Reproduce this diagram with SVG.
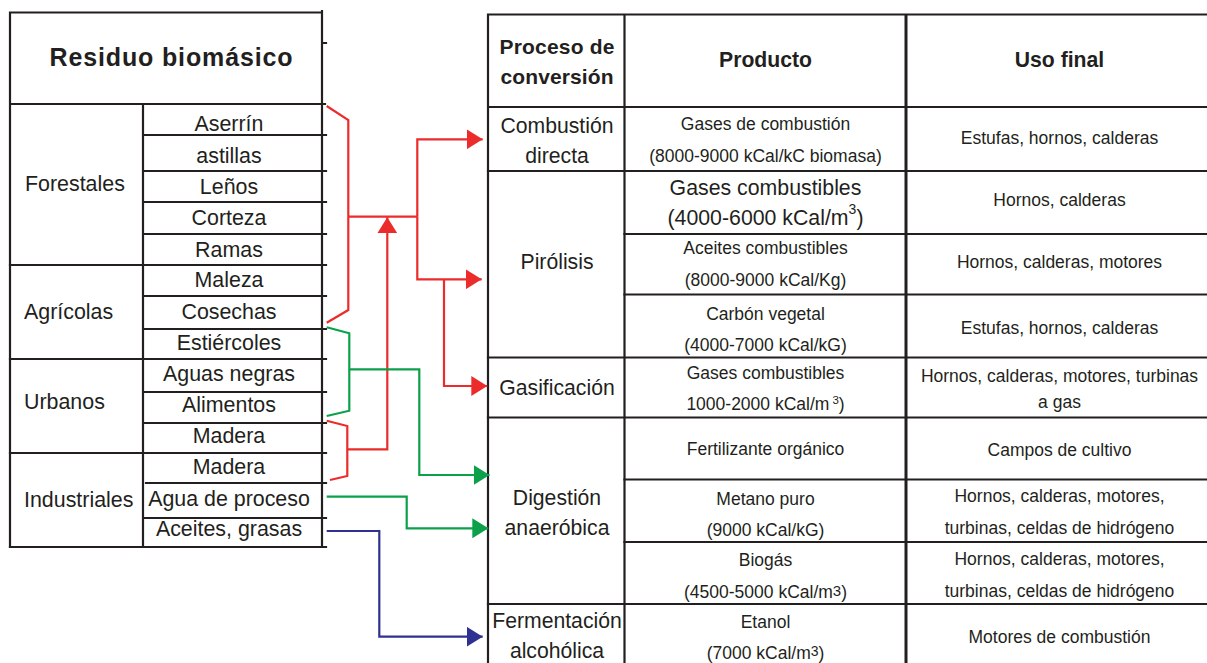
<svg xmlns="http://www.w3.org/2000/svg" width="1207" height="663" viewBox="0 0 1207 663">
  <style>
    text { font-family: "Liberation Sans", Arial, Helvetica, sans-serif; fill: #231f20; }
    .b { font-weight: bold; }
    .c { text-anchor: middle; }
    .lt { font-size: 21.4px; }
    .pr { font-size: 21.2px; }
    .sm { font-size: 17.5px; }
    .grid { stroke: #231f20; stroke-width: 2.2; fill: none; stroke-linecap: square; }
    .thick { stroke: #231f20; stroke-width: 3; fill: none; }
    .red { stroke: #ec2b2b; stroke-width: 2.2; fill: none; }
    .green { stroke: #0da04b; stroke-width: 2.2; fill: none; }
    .blue { stroke: #2e3192; stroke-width: 2.2; fill: none; }
  </style>
  <defs>
    <marker id="ahRed" markerUnits="userSpaceOnUse" markerWidth="17" markerHeight="20" refX="16" refY="10" orient="auto" viewBox="0 0 17 20">
      <path d="M0,0 L16,10 L0,20 Z" fill="#ec2b2b"/>
    </marker>
    <marker id="ahGreen" markerUnits="userSpaceOnUse" markerWidth="17" markerHeight="20" refX="16" refY="10" orient="auto" viewBox="0 0 17 20">
      <path d="M0,0 L16,10 L0,20 Z" fill="#0da04b"/>
    </marker>
    <marker id="ahBlue" markerUnits="userSpaceOnUse" markerWidth="17" markerHeight="20" refX="16" refY="10" orient="auto" viewBox="0 0 17 20">
      <path d="M0,0 L16,10 L0,20 Z" fill="#2e3192"/>
    </marker>
  </defs>
  <rect width="1207" height="663" fill="#ffffff"/>

  <!-- Left table: biomass residue sources -->
  <g id="residuo-header">
    <path class="grid" d="M10,12.5 H322 M10,12.5 V547 M322,11 V547 M10,104 H325 M322,43 H326"/>
    <text class="b c" x="171" y="66" font-size="25" textLength="243" lengthAdjust="spacing">Residuo biomásico</text>
  </g>
  <g id="forestales">
    <path class="grid" d="M143,104 V265 M143,135 H326 M143,171 H326 M143,202 H326 M143,234 H326 M10,265 H326"/>
    <text class="lt" x="25" y="190.7">Forestales</text>
    <text class="lt c" x="229" y="131">Aserrín</text>
    <text class="lt c" x="229" y="162.5">astillas</text>
    <text class="lt c" x="229" y="193.5">Leños</text>
    <text class="lt c" x="229" y="225">Corteza</text>
    <text class="lt c" x="229" y="256.5">Ramas</text>
  </g>
  <g id="agricolas">
    <path class="grid" d="M143,265 V359 M143,296 H326 M143,329 H326 M10,359 H326"/>
    <text class="lt" x="24" y="319">Agrícolas</text>
    <text class="lt c" x="229" y="286.5">Maleza</text>
    <text class="lt c" x="229" y="319">Cosechas</text>
    <text class="lt c" x="229" y="349.5">Estiércoles</text>
  </g>
  <g id="urbanos">
    <path class="grid" d="M143,359 V453 M145,392 H326 M145,423 H326 M10,453 H326"/>
    <text class="lt" x="24" y="409">Urbanos</text>
    <text class="lt c" x="229" y="380.5">Aguas negras</text>
    <text class="lt c" x="229" y="411.5">Alimentos</text>
    <text class="lt c" x="229" y="442.5">Madera</text>
  </g>
  <g id="industriales">
    <path class="grid" d="M143,453 V547 M146,483 H326 M145,518 H326 M10,547 H326"/>
    <text class="lt" x="24" y="506.5">Industriales</text>
    <text class="lt c" x="229" y="474">Madera</text>
    <text class="lt c" x="229" y="505.5">Agua de proceso</text>
    <text class="lt c" x="229" y="536">Aceites, grasas</text>
  </g>

  <!-- Right table: conversion process, product, end use -->
  <g id="tabla-header">
    <path class="grid" d="M488,14.5 H1207 M488,14.5 V663 M624.5,14.5 V663 M488,107 H1207"/>
    <path class="thick" d="M906,14.5 V663"/>
    <text class="b c" x="557" y="54" font-size="21" textLength="115" lengthAdjust="spacing">Proceso de</text>
    <text class="b c" x="557" y="83.5" font-size="21" textLength="113" lengthAdjust="spacing">conversión</text>
    <text class="b c" x="765.5" y="66.5" font-size="21.2">Producto</text>
    <text class="b c" x="1059.5" y="66.5" font-size="21.2">Uso final</text>
  </g>
  <g id="combustion-directa">
    <path class="grid" d="M488,171 H1207"/>
    <text class="pr c" x="557" y="133.3">Combustión</text>
    <text class="pr c" x="557" y="162.7">directa</text>
    <text class="sm c" x="765.5" y="130">Gases de combustión</text>
    <text class="sm c" x="765.5" y="161.5">(8000-9000 kCal/kC biomasa)</text>
    <text class="sm c" x="1059.5" y="144">Estufas, hornos, calderas</text>
  </g>
  <g id="pirolisis">
    <path class="grid" d="M624.5,234 H1207 M624.5,294.5 H1207 M488,357.5 H1207"/>
    <text class="pr c" x="557" y="269">Pirólisis</text>
    <text class="c" x="765.5" y="195" font-size="21.3">Gases combustibles</text>
    <text class="c" x="765.5" y="224.5" font-size="21.3">(4000-6000 kCal/m<tspan font-size="14" dy="-11">3</tspan><tspan dy="11">)</tspan></text>
    <text class="sm c" x="765.5" y="254.3">Aceites combustibles</text>
    <text class="sm c" x="765.5" y="285.5">(8000-9000 kCal/Kg)</text>
    <text class="sm c" x="765.5" y="320">Carbón vegetal</text>
    <text class="sm c" x="765.5" y="350.5">(4000-7000 kCal/kG)</text>
    <text class="sm c" x="1059.5" y="205.5">Hornos, calderas</text>
    <text class="sm c" x="1059.5" y="267.5">Hornos, calderas, motores</text>
    <text class="sm c" x="1059.5" y="333.5">Estufas, hornos, calderas</text>
  </g>
  <g id="gasificacion">
    <path class="grid" d="M488,417.5 H1207"/>
    <text class="pr c" x="557" y="395">Gasificación</text>
    <text class="sm c" x="765.5" y="379">Gases combustibles</text>
    <text class="sm c" x="765.5" y="410">1000-2000 kCal/m<tspan font-size="11.5" dx="3" dy="-6.5">3</tspan><tspan dy="6.5">)</tspan></text>
    <text class="sm c" x="1059.5" y="381.5">Hornos, calderas, motores, turbinas</text>
    <text class="sm c" x="1059.5" y="408">a gas</text>
  </g>
  <g id="digestion-anaerobica">
    <path class="grid" d="M624.5,479.5 H1207 M624.5,542 H1207 M488,604 H1207"/>
    <text class="pr c" x="557" y="505">Digestión</text>
    <text class="pr c" x="557" y="535">anaeróbica</text>
    <text class="sm c" x="765.5" y="455">Fertilizante orgánico</text>
    <text class="sm c" x="765.5" y="505">Metano puro</text>
    <text class="sm c" x="765.5" y="535.5">(9000 kCal/kG)</text>
    <text class="sm c" x="765.5" y="566">Biogás</text>
    <text class="sm c" x="765.5" y="598">(4500-5000 kCal/m<tspan font-size="15" dy="-2">3</tspan><tspan dy="2">)</tspan></text>
    <text class="sm c" x="1059.5" y="456">Campos de cultivo</text>
    <text class="sm c" x="1059.5" y="501.5">Hornos, calderas, motores,</text>
    <text class="sm c" x="1059.5" y="534">turbinas, celdas de hidrógeno</text>
    <text class="sm c" x="1059.5" y="565">Hornos, calderas, motores,</text>
    <text class="sm c" x="1059.5" y="597">turbinas, celdas de hidrógeno</text>
  </g>
  <g id="fermentacion-alcoholica">
    <text class="pr c" x="557" y="628.3">Fermentación</text>
    <text class="pr c" x="557" y="658.3">alcohólica</text>
    <text class="sm c" x="765.5" y="628.3">Etanol</text>
    <text class="sm c" x="765.5" y="659">(7000 kCal/m<tspan font-size="14" dy="-3">3</tspan><tspan dy="3">)</tspan></text>
    <text class="sm c" x="1059.5" y="643.3">Motores de combustión</text>
  </g>

  <!-- Connectors from residues to conversion processes -->
  <g id="connectors">
    <!-- forest and agricultural residues -->
    <polyline class="red" points="326.7,106 348.3,120 348.3,310 326.7,322.7"/>
    <path class="red" d="M348.3,216.7 H417.3"/>
    <path class="red" d="M417.3,216.7 V139.3 H482.7" marker-end="url(#ahRed)"/>
    <path class="red" d="M417.3,216.7 V279.3 H481.7" marker-end="url(#ahRed)"/>
    <path class="red" d="M444,279.3 V386 H487.3" marker-end="url(#ahRed)"/>
    <!-- urban and industrial wood -->
    <polyline class="red" points="326.7,420.7 347.3,426 347.3,476 330,480"/>
    <path class="red" d="M347.3,449.3 H387.3 V217.3" marker-end="url(#ahRed)"/>
    <!-- manure, sewage and food waste -->
    <polyline class="green" points="326.7,327.3 349.3,333.3 349.3,410.7 326.7,416"/>
    <path class="green" d="M349.3,369.3 H419.3 V475 H489.5" marker-end="url(#ahGreen)"/>
    <!-- process water -->
    <path class="green" d="M326.7,496.7 H406.7 V528.3 H488.3" marker-end="url(#ahGreen)"/>
    <!-- oils and fats -->
    <path class="blue" d="M326.7,531 H379.3 V636.7 H482.7" marker-end="url(#ahBlue)"/>
  </g>
</svg>
